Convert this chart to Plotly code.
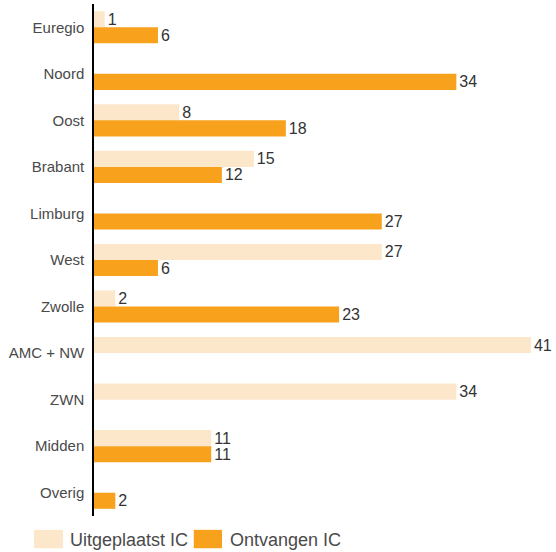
import plotly.graph_objects as go

categories = ["Euregio", "Noord", "Oost", "Brabant", "Limburg", "West", "Zwolle",
              "AMC + NW", "ZWN", "Midden", "Overig"]
uitgeplaatst = [1, 0, 8, 15, 0, 27, 2, 41, 34, 11, 0]
ontvangen = [6, 34, 18, 12, 27, 6, 23, 0, 0, 11, 2]
series_names = ["Uitgeplaatst IC", "Ontvangen IC"]
series_colors = ["#FDE7CB", "#F7A11C"]

def labels(vals):
    return [str(v) if v else "" for v in vals]

font_family = "Liberation Sans, Arial, sans-serif"

fig = go.Figure()
for name, vals, col in zip(series_names, [uitgeplaatst, ontvangen], series_colors):
    fig.add_trace(go.Bar(
        y=categories, x=vals, orientation="h", name=name,
        marker=dict(color=col, line=dict(width=0)),
        text=labels(vals), textposition="outside", cliponaxis=False,
        constraintext="none",
        textfont=dict(size=16, color="#333333", family=font_family),
    ))

fig.update_layout(
    width=556, height=552,
    margin=dict(l=94, r=0, t=4, b=36, autoexpand=False),
    paper_bgcolor="white", plot_bgcolor="white",
    barmode="group", bargap=0.31, bargroupgap=0,
    font=dict(family=font_family, color="#444444"),
    showlegend=False,
    xaxis=dict(range=[0, 43.35], showgrid=False, zeroline=False, showticklabels=False,
               showline=False, fixedrange=True, automargin=False),
    yaxis=dict(autorange="reversed", showgrid=False, zeroline=False,
               showline=True, linecolor="black", linewidth=1.5,
               ticks="", ticklabelstandoff=5, automargin=False, fixedrange=True,
               tickfont=dict(size=15, color="#4a4a4a", family=font_family)),
)

# custom legend (larger swatches as in the reference), paper coordinates
legend_items = [
    (series_names[0], series_colors[0], -0.13, -0.067, -0.056),
    (series_names[1], series_colors[1], 0.216, 0.277, 0.290),
]
for name, col, x0, x1, xt in legend_items:
    fig.add_shape(type="rect", xref="paper", yref="paper", x0=x0, x1=x1,
                  y0=-0.063, y1=-0.027, fillcolor=col, line=dict(width=0))
    fig.add_annotation(xref="paper", yref="paper", x=xt, y=-0.046, text=name,
                       showarrow=False, xanchor="left", yanchor="middle",
                       font=dict(size=18, color="#4a4a4a", family=font_family))

fig.write_html("out.html", config={"displayModeBar": False},
               post_script="document.body.style.margin='0';document.body.style.padding='0';")
